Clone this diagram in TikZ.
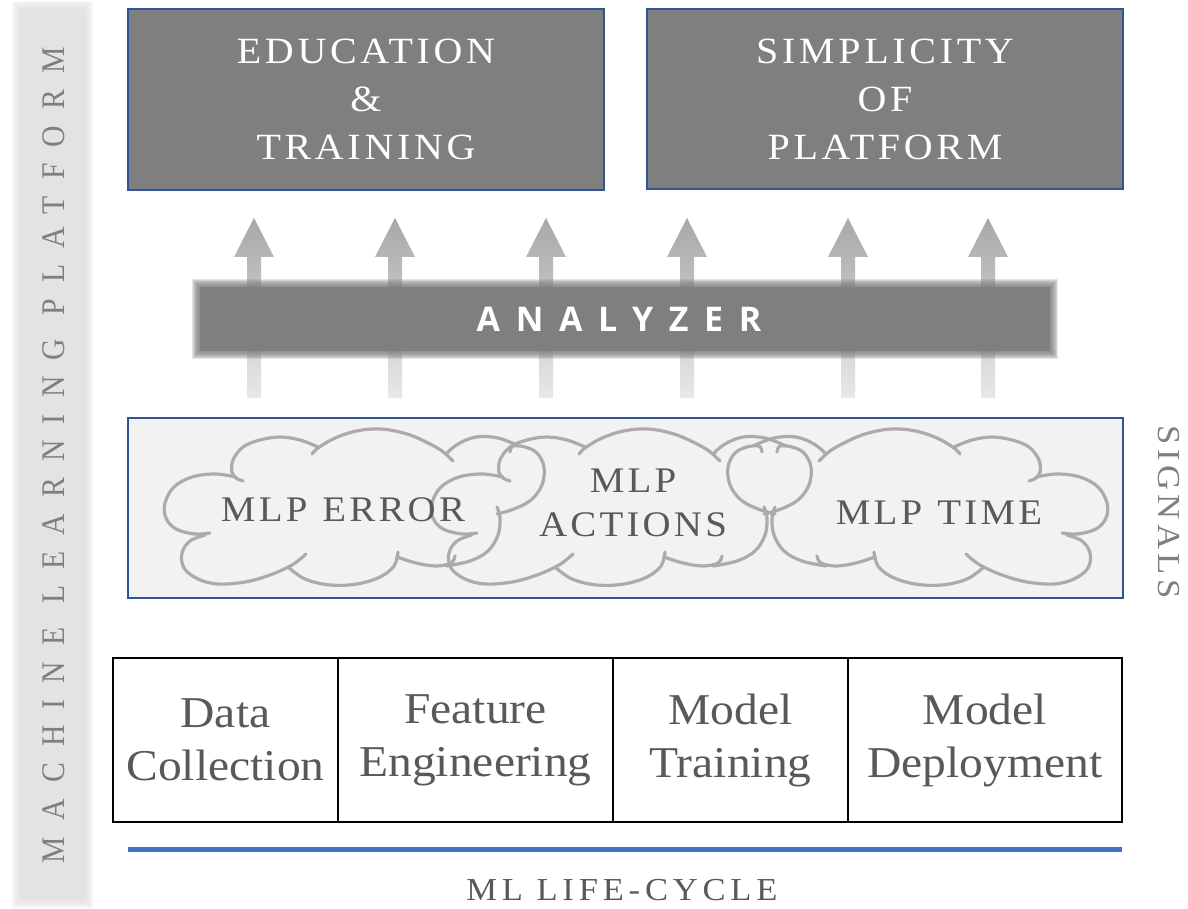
\documentclass[tikz,border=0pt]{standalone}
\usepackage{fontspec}
\setmainfont{Liberation Serif}[FakeStretch=1.08]
\newfontfamily\sansbold{Open Sans}
\newfontfamily\sidefont{Liberation Serif}[FakeStretch=0.9, LetterSpace=49]
\usetikzlibrary{calc}
\definecolor{boxgray}{HTML}{7F7F7F}
\definecolor{boxblue}{HTML}{2F5597}
\definecolor{siglight}{HTML}{F2F2F2}
\definecolor{txtgray}{HTML}{595959}
\definecolor{cloudgray}{HTML}{AEAAAA}
\definecolor{lineblue}{HTML}{4472C4}
\definecolor{sidegray}{HTML}{E3E3E3}
\definecolor{sidetxt}{HTML}{7F7F7F}
\definecolor{arrtop}{HTML}{A8A8A8}
\definecolor{arrbot}{HTML}{E8E8E8}

% soft-edged rectangle: colour, x1, y1, x2, y2 (nominal edges)
\newcommand\softrect[5]{%
\foreach \k in {-3,...,4} {\fill[#1, opacity=0.2] ({#2-\k},{#3-\k}) rectangle ({#4+\k},{#5+\k});}
\fill[#1] ({#2+4},{#3+4}) rectangle ({#4-4},{#5-4});}

\tikzset{
  cloudstroke/.style={draw=cloudgray, line width=3.2pt, line join=round, line cap=round},
  bump/.style={smooth, tension=0.6},
  topbox/.style={draw=boxblue, line width=1.3pt, fill=boxgray, text=white, align=center,
     inner sep=0pt, font=\fontsize{37}{48}\selectfont\addfontfeature{LetterSpace=10}},
  cloudtxt/.style={text=txtgray, align=center, inner sep=0pt,
     font=\fontsize{36}{44}\selectfont\addfontfeature{LetterSpace=9}},
  cell/.style={draw=black, line width=1.6pt, minimum height=164pt, inner sep=0pt,
     text=txtgray, align=center, font=\fontsize{44}{53}\selectfont},
  arrowshade/.style={top color=arrtop, bottom color=arrbot}
}

% hand-drawn cloud outline (drawn in picture coordinates of the left cloud)
\newcommand\cloudshape{%
\draw[cloudstroke] plot[bump] coordinates {(318,447) (300,440) (280,437) (260,440) (243,447) (233,460) (232,472) (236,478) (243,481)};
\draw[cloudstroke] plot[bump] coordinates {(236,477) (215,474) (192,477) (174,487) (165,503) (166,518) (176,529) (195,534) (210,533)};
\draw[cloudstroke] plot[bump] coordinates {(205,535) (190,541) (182,553) (184,568) (198,579) (218,584) (245,582) (270,575) (292,565) (306,554)};
\draw[cloudstroke] plot[bump] coordinates {(288,567) (305,579) (330,585) (357,584) (380,577) (394,566) (398,552)};
\draw[cloudstroke] plot[bump] coordinates {(397,557) (416,563) (436,566) (451,563) (455,556)};
\draw[cloudstroke] plot[bump] coordinates {(446,566) (470,561) (488,551) (498,535) (500,518) (497,507)};
\draw[cloudstroke] plot[bump] coordinates {(497,514) (514,509) (531,500) (542,485) (544,467) (537,453) (525,447) (513,446) (510,452)};
\draw[cloudstroke] plot[bump] coordinates {(519,446) (498,438) (476,437) (458,444) (447,453)};
\draw[cloudstroke] plot[bump] coordinates {(453,461) (442,451) (428,443) (410,435) (390,430) (372,429) (352,432) (333,439) (318,448) (312,454)};
}

\begin{document}
\begin{tikzpicture}[x=1pt, y=-1pt]
\useasboundingbox (0,0) rectangle (1188,909);
\fill[white] (0,0) rectangle (1188,909);

% side bar
\softrect{sidegray}{16}{5}{89}{904}
\node[rotate=90, text=sidetxt, inner sep=0pt,
  font=\sidefont\fontsize{33}{36}\selectfont] (platform) at (54,455)
  {MACHINE LEARNING PLATFORM};

% top boxes
\node[topbox, minimum width=476pt, minimum height=181pt] (edu) at (366,99.5)
  {EDUCATION\\\&\\TRAINING};
\node[topbox, minimum width=476pt, minimum height=180pt] (simp) at (885,99)
  {SIMPLICITY\\OF\\PLATFORM};

% arrows
\foreach \ax [count=\i] in {254,395,546,687,848,988} {
  \coordinate (tail\i) at (\ax,398);
  \coordinate (tip\i) at (\ax,218);
  \shade[arrowshade] ($(tail\i)+(-7,0)$) -- ($(tip\i)+(-7,39)$) -- ($(tip\i)+(-20,39)$)
    -- (tip\i) -- ($(tip\i)+(20,39)$) -- ($(tip\i)+(7,39)$) -- ($(tail\i)+(7,0)$) -- cycle;
}

% analyzer
\softrect{boxgray}{196}{283}{1054}{355}
\node[minimum width=858pt, minimum height=72pt, inner sep=0pt, text=white,
  font=\sansbold\bfseries\fontsize{34}{40}\selectfont\addfontfeature{LetterSpace=46}]
  (analyzer) at (625,319) {\hspace*{-12pt}ANALYZER};

% signals box
\node[draw=boxblue, line width=1.8pt, fill=siglight, minimum width=995pt,
  minimum height=180pt, inner sep=0pt] (signals) at (625.5,508) {};
\cloudshape
\begin{scope}[xshift=267pt]\cloudshape\end{scope}
\begin{scope}[xshift=1272pt, xscale=-1]\cloudshape\end{scope}
\node[cloudtxt] (err) at (343,510) {MLP\hspace{15pt}ERROR};
\node[cloudtxt] (act) at (633,503) {MLP\\ACTIONS};
\node[cloudtxt] (time) at (939,513) {MLP\hspace{15pt}TIME};
\node[rotate=-90, text=sidetxt, inner sep=0pt,
  font=\fontsize{32}{36}\selectfont\addfontfeature{LetterSpace=14}] (siglabel) at (1169,512) {SIGNALS};

% life-cycle table
\node[cell, minimum width=225pt] (c1) at (225.5,740) {Data\\Collection};
\node[cell, minimum width=275pt] (c2) at (475.5,740) {Feature\\Engineering};
\node[cell, minimum width=235pt] (c3) at (730.5,740) {Model\\Training};
\node[cell, minimum width=274pt] (c4) at (985,740) {Model\\Deployment};

\coordinate (bl) at (128,849);
\coordinate (br) at (1122,849);
\draw[lineblue, line width=5pt] (bl) -- (br);
\node[text=txtgray, inner sep=0pt,
  font=\fontsize{32}{36}\selectfont\addfontfeature{LetterSpace=15}] (life) at (622,890) {ML LIFE-CYCLE};
\end{tikzpicture}
\end{document}
